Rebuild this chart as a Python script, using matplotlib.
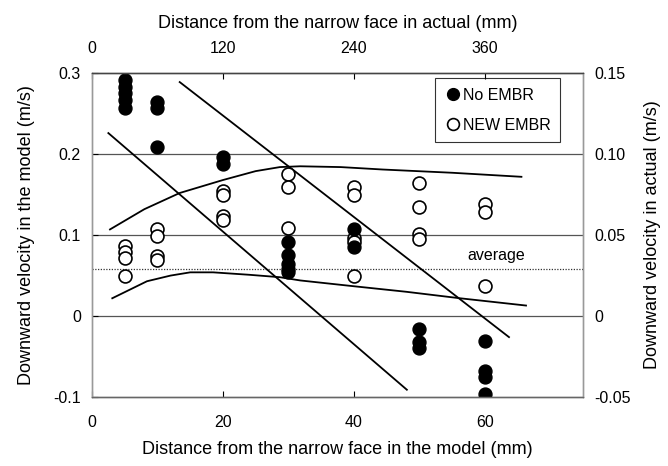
import matplotlib
matplotlib.use("Agg")
import matplotlib.pyplot as plt
from matplotlib.lines import Line2D

plt.rcParams['font.family'] = ['Liberation Sans', 'DejaVu Sans']

# No EMBR (filled) points: x in model mm, y in m/s (model)
no_x = [5, 5, 5, 5, 5, 10, 10, 10, 20, 20, 30, 30, 30, 30, 30, 40, 40, 50, 50, 50, 60, 60, 60, 60]
no_y = [0.291, 0.283, 0.275, 0.267, 0.257, 0.264, 0.257, 0.209, 0.196, 0.188,
        0.091, 0.076, 0.064, 0.058, 0.054, 0.108, 0.085, -0.016, -0.032, -0.040,
        -0.031, -0.068, -0.075, -0.096]

# NEW EMBR (open) points
new_x = [5, 5, 5, 5, 10, 10, 10, 10, 20, 20, 20, 20, 30, 30, 30, 40, 40, 40, 40, 40,
         50, 50, 50, 50, 60, 60, 60]
new_y = [0.087, 0.079, 0.072, 0.050, 0.107, 0.099, 0.074, 0.069, 0.154, 0.150, 0.123, 0.119,
         0.175, 0.160, 0.109, 0.160, 0.149, 0.097, 0.092, 0.050,
         0.164, 0.135, 0.101, 0.095, 0.138, 0.128, 0.037]

# straight lines
line1_x = [2.5, 48.1]
line1_y = [0.226, -0.091]
line2_x = [13.4, 63.7]
line2_y = [0.289, -0.026]

# upper and lower envelope curves
up_x = [2.75, 8.0, 13.4, 20.0, 25.0, 28.7, 31.8, 38.0, 44.4, 55.0, 65.6]
up_y = [0.107, 0.132, 0.152, 0.168, 0.179, 0.184, 0.185, 0.184, 0.181, 0.177, 0.172]
low_x = [3.1, 8.4, 12.0, 15.0, 18.5, 24.0, 28.7, 31.8, 39.8, 48.0, 56.2, 66.3]
low_y = [0.022, 0.043, 0.050, 0.054, 0.054, 0.051, 0.048, 0.044, 0.037, 0.030, 0.022, 0.013]

average = 0.058
grid_y = [0.2, 0.1, 0.0]

fig = plt.figure(figsize=(6.68, 4.66), dpi=100)
ax = fig.add_axes([0.1377, 0.148, 0.735, 0.695])

for gy in grid_y:
    ax.axhline(gy, color='#555555', lw=0.9, zorder=1)
ax.axhline(average, color='#333333', lw=0.9, ls=(0, (1, 1.2)), zorder=1)
ax.text(61.8, average + 0.017, 'average', fontsize=11.5, ha='center', va='center')

ax.plot(line1_x, line1_y, color='black', lw=1.3, zorder=2)
ax.plot(line2_x, line2_y, color='black', lw=1.3, zorder=2)
ax.plot(up_x, up_y, color='black', lw=1.3, zorder=2)
ax.plot(low_x, low_y, color='black', lw=1.3, zorder=2)

ax.plot(new_x, new_y, 'o', ms=9.3, mfc='white', mec='black', mew=1.2, ls='none', zorder=3)
ax.plot(no_x, no_y, 'o', ms=9.3, mfc='black', mec='black', ls='none', zorder=4)

ax.set_xlim(0, 75)
ax.set_ylim(-0.1, 0.3)
ax.set_xticks([0, 20, 40, 60])
ax.set_yticks([-0.1, 0, 0.1, 0.2, 0.3])
ax.set_yticklabels(['-0.1', '0', '0.1', '0.2', '0.3'])
ax.tick_params(axis='x', direction='in', labelsize=11.5, length=4, pad=13)
ax.tick_params(axis='y', direction='in', labelsize=11.5, length=4, pad=8)

ax.set_xlabel('Distance from the narrow face in the model (mm)', fontsize=13, labelpad=8)
ax.set_ylabel('Downward velocity in the model (m/s)', fontsize=13, labelpad=13)

# top axis (actual = 6 x model)
axt = ax.twiny()
axt.set_xlim(0, 450)
axt.set_xticks([0, 120, 240, 360])
axt.tick_params(direction='in', labelsize=11.5, length=4, pad=12)
axt.set_xlabel('Distance from the narrow face in actual (mm)', fontsize=13, labelpad=10)

# right axis (actual = model / 2)
axr = ax.twinx()
axr.set_ylim(-0.05, 0.15)
axr.set_yticks([-0.05, 0, 0.05, 0.10, 0.15])
axr.set_yticklabels(['-0.05', '0', '0.05', '0.10', '0.15'])
axr.tick_params(direction='in', labelsize=11.5, length=0, pad=8)
axr.set_ylabel('Downward velocity in actual (m/s)', fontsize=13, labelpad=10)

for a in (ax, axt, axr):
    a.spines['left'].set_color('#999999')
    a.spines['right'].set_color('#999999')
    a.spines['top'].set_color('#444444')
    a.spines['bottom'].set_color('#666666')
    for s in a.spines.values():
        s.set_linewidth(0.9)

handles = [Line2D([], [], marker='o', ls='none', ms=8.5, mfc='black', mec='black'),
           Line2D([], [], marker='o', ls='none', ms=8.5, mfc='white', mec='black', mew=1.2)]
leg = ax.legend(handles, ['No EMBR', 'NEW EMBR'], loc='upper right',
                bbox_to_anchor=(0.953, 0.985), borderaxespad=0, fontsize=11.5,
                frameon=True, fancybox=False, handletextpad=0.1, handlelength=1.0,
                borderpad=0.6, labelspacing=0.95)
leg.get_frame().set_edgecolor('black')
leg.get_frame().set_linewidth(0.8)
leg.set_zorder(5)

fig.savefig('out.png', dpi=100)
